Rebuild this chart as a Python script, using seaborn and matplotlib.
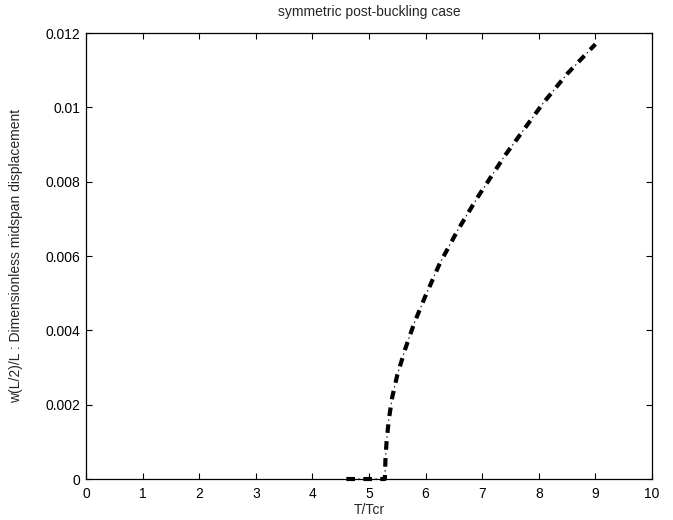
import matplotlib
matplotlib.use("Agg")
import matplotlib.pyplot as plt
import seaborn as sns
import pandas as pd

# Midspan displacement vs. temperature ratio (post-buckling branch)
t_ratio = [4.60, 5.00, 5.28, 5.29, 5.31, 5.35, 5.41, 5.50, 5.64, 5.80,
           5.99, 6.25, 6.57, 6.91, 7.40, 8.07, 8.50, 9.00]
w_mid = [0.0, 0.0, 0.0, 0.0005, 0.0010, 0.0016, 0.0022, 0.0028, 0.0035,
         0.0042, 0.0049, 0.0058, 0.0067, 0.00756, 0.0087, 0.0101, 0.0109,
         0.0117]

x_ticks = [0, 1, 2, 3, 4, 5, 6, 7, 8, 9, 10]
y_ticks = [0, 0.002, 0.004, 0.006, 0.008, 0.01, 0.012]
y_tick_labels = ["0", "0.002", "0.004", "0.006", "0.008", "0.01", "0.012"]

df = pd.DataFrame({"T/Tcr": t_ratio, "w": w_mid})

sns.set_theme(style="white")
plt.rcParams["font.family"] = ["Liberation Sans", "DejaVu Sans"]

fig = plt.figure(figsize=(6.73, 5.20), dpi=100)
ax = fig.add_axes([0.1278, 0.0788, 0.8410, 0.8577])

# dash-dot curve: thick dashes plus thin dots placed in the gaps
dash_lw, dot_lw = 3.0, 0.7
dash_on, dash_off = 6.2, 6.0            # points
period = dash_on + dash_off
dot_len = 1.2
dot_start = dash_on + (dash_off - dot_len) / 2
sns.lineplot(data=df, x="T/Tcr", y="w", ax=ax, color="black", lw=dash_lw,
             sort=False, estimator=None, clip_on=False, zorder=5,
             dashes=False,
             linestyle=(0, (dash_on / dash_lw, dash_off / dash_lw)))
sns.lineplot(data=df, x="T/Tcr", y="w", ax=ax, color="black", lw=dot_lw,
             sort=False, estimator=None, clip_on=False, zorder=5,
             dashes=False,
             linestyle=((period - dot_start) / dot_lw,
                        (dot_len / dot_lw, (period - dot_len) / dot_lw)))

ax.set_xlim(0, 10)
ax.set_ylim(0, 0.012)
ax.set_xticks(x_ticks)
ax.set_xticklabels([str(v) for v in x_ticks])
ax.set_yticks(y_ticks)
ax.set_yticklabels(y_tick_labels)

ax.tick_params(axis="both", which="both", direction="in", length=4,
               width=0.8, colors="black", labelsize=10,
               top=True, right=True, bottom=True, left=True)
ax.tick_params(axis="x", pad=6)
ax.tick_params(axis="y", pad=4)
for s in ax.spines.values():
    s.set_visible(True)
    s.set_color("black")
    s.set_linewidth(0.9)

ax.set_title("symmetric post-buckling case", fontsize=10, pad=12)
ax.set_xlabel("T/Tcr", fontsize=10, labelpad=1)
ax.set_ylabel("w(L/2)/L : Dimensionless midspan displacement", fontsize=10,
              labelpad=16)
ax.grid(False)

fig.savefig("out.png", dpi=100)
